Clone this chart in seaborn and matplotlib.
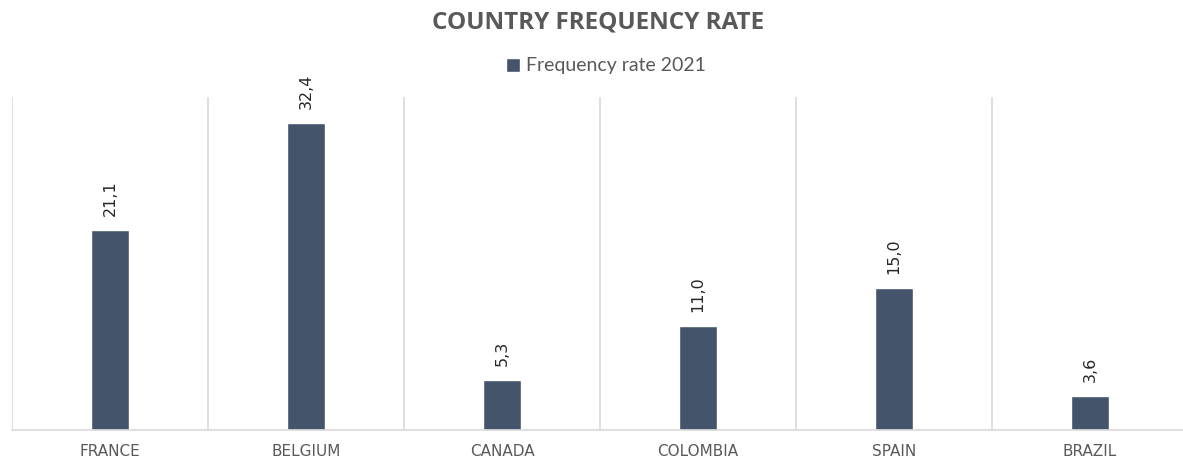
import matplotlib
matplotlib.use("Agg")
import matplotlib.pyplot as plt
import seaborn as sns
import pandas as pd
import numpy as np

countries = ["FRANCE", "BELGIUM", "CANADA", "COLOMBIA", "SPAIN", "BRAZIL"]
rates = [21.1, 32.4, 5.3, 11.0, 15.0, 3.6]
series_name = "Frequency rate 2021"
title = "COUNTRY FREQUENCY RATE"

sns.set_theme(style="white")
plt.rcParams["font.family"] = ["Lato", "DejaVu Sans"]

df = pd.DataFrame({"country": countries, "rate": rates, "series": series_name})

fig = plt.figure(figsize=(11.83, 4.57), dpi=100)
ax = fig.add_axes([12 / 1183, 27 / 457, 1176 / 1183, 333 / 457])

bar_color = "#44546A"
sns.barplot(data=df, x="country", y="rate", hue="series", palette=[bar_color],
            width=0.19, ax=ax, saturation=1, legend=True)

ax.set_xlim(-0.5, len(countries) - 0.5)
ax.set_ylim(0, 35.1)
ax.set_yticks([])
ax.set_xlabel("")
ax.set_ylabel("")

# category separators
ax.set_xticks(np.arange(len(countries) + 1) - 0.5, minor=True)
ax.set_xticks(np.arange(len(countries)), countries, fontfamily="DejaVu Sans")
ax.grid(True, which="minor", axis="x", color="#D9D9D9", linewidth=1.2)
ax.grid(False, which="major")
ax.tick_params(axis="x", which="both", length=0, pad=10, labelsize=11,
               labelcolor="#595959")

for s in ["top", "right", "left"]:
    ax.spines[s].set_visible(False)
ax.spines["bottom"].set_color("#D9D9D9")
ax.spines["bottom"].set_linewidth(1.2)

for i, v in enumerate(rates):
    ax.annotate(f"{v:.1f}".replace(".", ","), xy=(i, v), xytext=(0, 10),
                textcoords="offset points", rotation=90, ha="center", va="bottom",
                fontsize=11.5, color="#262626", family=["DejaVu Sans"])

leg = ax.legend(loc="center", bbox_to_anchor=(606 / 1183, 1 - 66 / 457),
                bbox_transform=fig.transFigure, frameon=False, fontsize=14,
                handlelength=0.7, handleheight=0.7, handletextpad=0.3)
for t in leg.get_texts():
    t.set_color("#595959")

fig.text(598 / 1183, 1 - 22 / 457, title, ha="center", va="center",
         fontsize=17.5, fontweight="bold", color="#595959", family=["Open Sans", "DejaVu Sans"])

fig.savefig("out.png", dpi=100)
